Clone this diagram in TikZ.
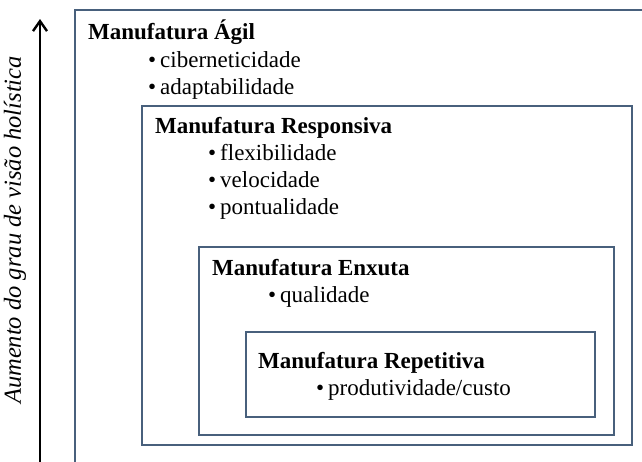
\documentclass[tikz,border=0pt]{standalone}
\usepackage{fontspec}
\setmainfont{Liberation Serif}
\usetikzlibrary{arrows.meta}
\definecolor{boxline}{RGB}{72,96,124}
\begin{document}
\begin{tikzpicture}[x=1pt,y=-1pt,
  frame/.style={draw=boxline,line width=2.6pt},
  title/.style={anchor=base west,inner sep=0pt,font=\fontsize{23}{26}\selectfont\bfseries},
  item/.style={anchor=base west,inner sep=0pt,font=\fontsize{23}{26}\selectfont}]
\useasboundingbox (0,0) rectangle (642,461);
\fill[white] (0,0) rectangle (642,461);
% outer frame (runs off the page)
\draw[frame] (75,470) -- (75,10) -- (650,10);
\draw[frame] (142,106) rectangle (632,445);
\draw[frame] (199,247) rectangle (614,435);
\draw[frame] (246,332) rectangle (595,417);
% arrow
\coordinate (abot) at (40,470);
\coordinate (atop) at (40,19);
\draw[line width=2.4pt,-{Straight Barb[length=10pt,width=14pt,line width=2.4pt]}] (abot) -- (atop);
\node[rotate=90,inner sep=0pt,font=\fontsize{24.5}{27}\selectfont\itshape] (lab) at (15,230) {Aumento do grau de visão holística};
% texts
\node[title] (t1) at (88,39) {Manufatura Ágil};
\node[item] (i11) at (148,67) {\textbullet\kern4pt ciberneticidade};
\node[item] (i12) at (148,94) {\textbullet\kern4pt adaptabilidade};
\node[title] (t2) at (155,133) {Manufatura Responsiva};
\node[item] (i21) at (208,160) {\textbullet\kern4pt flexibilidade};
\node[item] (i22) at (208,187) {\textbullet\kern4pt velocidade};
\node[item] (i23) at (208,214) {\textbullet\kern4pt pontualidade};
\node[title] (t3) at (212,275) {Manufatura Enxuta};
\node[item] (i31) at (268,302) {\textbullet\kern4pt qualidade};
\node[title] (t4) at (258,368) {Manufatura Repetitiva};
\node[item] (i41) at (316,395) {\textbullet\kern4pt produtividade/custo};
\end{tikzpicture}
\end{document}
